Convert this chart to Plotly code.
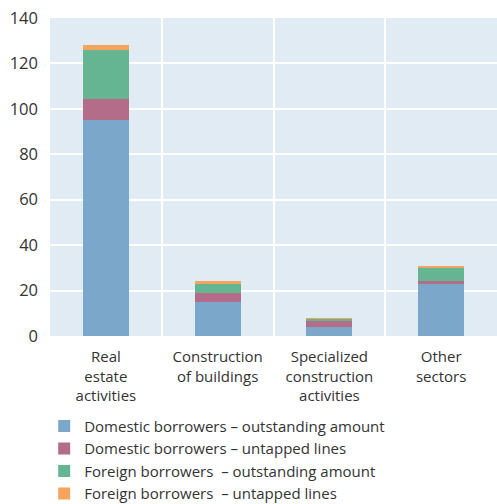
import plotly.graph_objects as go

categories = ["Real<br>estate<br>activities", "Construction<br>of buildings",
              "Specialized<br>construction<br>activities", "Other<br>sectors"]
series_names = ["Domestic borrowers – outstanding amount",
                "Domestic borrowers – untapped lines",
                "Foreign borrowers  – outstanding amount",
                "Foreign borrowers  – untapped lines"]
dom_out = [95.0, 15.0, 3.9, 23.0]
dom_untapped = [9.5, 3.9, 2.7, 1.1]
for_out = [21.4, 4.1, 0.9, 6.2]
for_untapped = [2.2, 1.3, 0.4, 0.5]
yticks = [0, 20, 40, 60, 80, 100, 120, 140]

colors = ["#7BA7CB", "#B36D89", "#66B592", "#F5A45D"]
values = [dom_out, dom_untapped, for_out, for_untapped]

fig = go.Figure()
for name, vals, col in zip(series_names, values, colors):
    fig.add_trace(go.Bar(x=categories, y=vals, name=name, marker_color=col,
                         marker_line_width=0, width=0.41))

font_family = "Open Sans, Lato, sans-serif"
fig.update_layout(
    width=497, height=504,
    margin=dict(l=50, r=0, t=18, b=168, autoexpand=False),
    barmode="stack",
    plot_bgcolor="#E1EBF4",
    paper_bgcolor="white",
    font=dict(family=font_family, size=15, color="#333333"),
    legend=dict(
        orientation="v", traceorder="normal",
        x=-0.013, y=-0.232, xanchor="left", yanchor="top",
        font=dict(size=15, color="#333333"),
        tracegroupgap=0,
    ),
    xaxis=dict(
        tickson="boundaries", showgrid=True, gridcolor="white", gridwidth=2,
        ticks="", ticklen=0, showline=False, zeroline=False, tickangle=0,
        tickfont=dict(size=15, color="#333333"), ticklabelstandoff=10,
    ),
    yaxis=dict(
        range=[0, 140], tickvals=yticks, showgrid=True, gridcolor="white",
        gridwidth=2, zeroline=False, ticks="", showline=False,
        tickfont=dict(size=16.5, color="#333333"), ticklabelstandoff=11,
        ticklabeloverflow="allow",
    ),
)

fig.write_html("out.html", config={"displayModeBar": False},
               post_script="document.body.style.margin='0';document.body.style.overflow='hidden';")
